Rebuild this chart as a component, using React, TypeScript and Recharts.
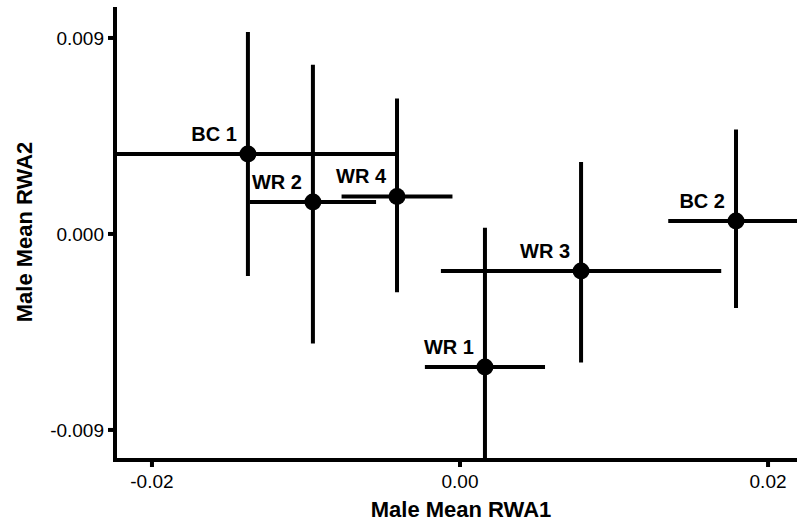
import { ScatterChart, Scatter, XAxis, YAxis, ErrorBar, Label } from 'recharts';

// group means with their whiskers
const groups = ['BC 1', 'WR 2', 'WR 4', 'WR 3', 'WR 1', 'BC 2'];
const rwa1 = [-0.01377, -0.00955, -0.00409, 0.00786, 0.00162, 0.01792];
const rwa2 = [0.00367, 0.00147, 0.00172, -0.0017, -0.00611, 0.0006];
const rwa1Err = [0.0097, 0.0041, 0.0036, 0.0091, 0.0039, 0.0044];
const rwa2ErrLow = [0.0056, 0.0065, 0.0044, 0.0042, 0.0064, 0.004];
const rwa2ErrHigh = [0.0056, 0.0063, 0.0045, 0.005, 0.0064, 0.0042];

const xTicks = [-0.02, 0, 0.02];
const yTicks = [-0.009, 0, 0.009];

const data = groups.map((name, i) => ({
  name,
  x: rwa1[i],
  y: rwa2[i],
  ex: rwa1Err[i],
  ey: [rwa2ErrLow[i], rwa2ErrHigh[i]],
}));

const FONT = '"Liberation Sans", Arial, Helvetica, sans-serif';

function Dot(props: any) {
  const { cx, cy, payload } = props;
  return (
    <g>
      <circle cx={cx} cy={cy} r={8.5} fill="#000" />
      <text
        x={cx - 11}
        y={cy - 13}
        textAnchor="end"
        fontFamily={FONT}
        fontWeight="bold"
        fontSize={20}
        fill="#000"
      >
        {payload.name}
      </text>
    </g>
  );
}

const XTitle = (p: any) => {
  const vb = p.viewBox;
  return (
    <text
      x={vb.x + vb.width / 2 + 5}
      y={vb.y + 57}
      textAnchor="middle"
      fontFamily={FONT}
      fontWeight="bold"
      fontSize={22}
      fill="#000"
    >
      Male Mean RWA1
    </text>
  );
};

const YTitle = (p: any) => {
  const vb = p.viewBox;
  const x = vb.x + 32;
  const y = 232;
  return (
    <text
      x={x}
      y={y}
      transform={`rotate(-90 ${x} ${y})`}
      textAnchor="middle"
      fontFamily={FONT}
      fontWeight="bold"
      fontSize={22}
      fill="#000"
    >
      Male Mean RWA2
    </text>
  );
};

const axisStroke = { stroke: '#000', strokeWidth: 4, strokeLinecap: 'square' as const };
const tickStroke = { stroke: '#000', strokeWidth: 4 };
const tickFont = { fill: '#000', fontSize: 19, fontFamily: FONT };

export default function App() {
  return (
    <div style={{ position: 'absolute', left: 0, top: 0, background: '#fff' }}>
      {/* whiskers run past the axes in the original, so clip them to the plot frame */}
      <style>{'.recharts-errorBars { clip-path: url(#plotClip); }'}</style>
      <svg width={0} height={0} style={{ position: 'absolute' }}>
        <defs>
          <clipPath id="plotClip" clipPathUnits="userSpaceOnUse">
            <rect x={115} y={9} width={682} height={451} />
          </clipPath>
        </defs>
      </svg>
      <ScatterChart width={797} height={525} margin={{ top: 9, right: 0, bottom: 0, left: 0 }}>
        <XAxis
          type="number"
          dataKey="x"
          domain={[-0.0224, 0.02188]}
          allowDataOverflow
          ticks={xTicks}
          tickFormatter={(v: number) => v.toFixed(2)}
          height={65}
          axisLine={axisStroke}
          tickLine={tickStroke}
          tickSize={7}
          tickMargin={8}
          tick={tickFont}
        >
          <Label content={XTitle} />
        </XAxis>
        <YAxis
          type="number"
          dataKey="y"
          domain={[-0.01038, 0.01033]}
          allowDataOverflow
          ticks={yTicks}
          tickFormatter={(v: number) => v.toFixed(3)}
          width={115}
          axisLine={axisStroke}
          tickLine={tickStroke}
          tickSize={7}
          tickMargin={4}
          tick={tickFont}
        >
          <Label content={YTitle} />
        </YAxis>
        <Scatter data={data} shape={Dot} isAnimationActive={false}>
          <ErrorBar dataKey="ex" direction="x" width={0} stroke="#000" strokeWidth={4} />
          <ErrorBar dataKey="ey" direction="y" width={0} stroke="#000" strokeWidth={4} />
        </Scatter>
      </ScatterChart>
    </div>
  );
}
